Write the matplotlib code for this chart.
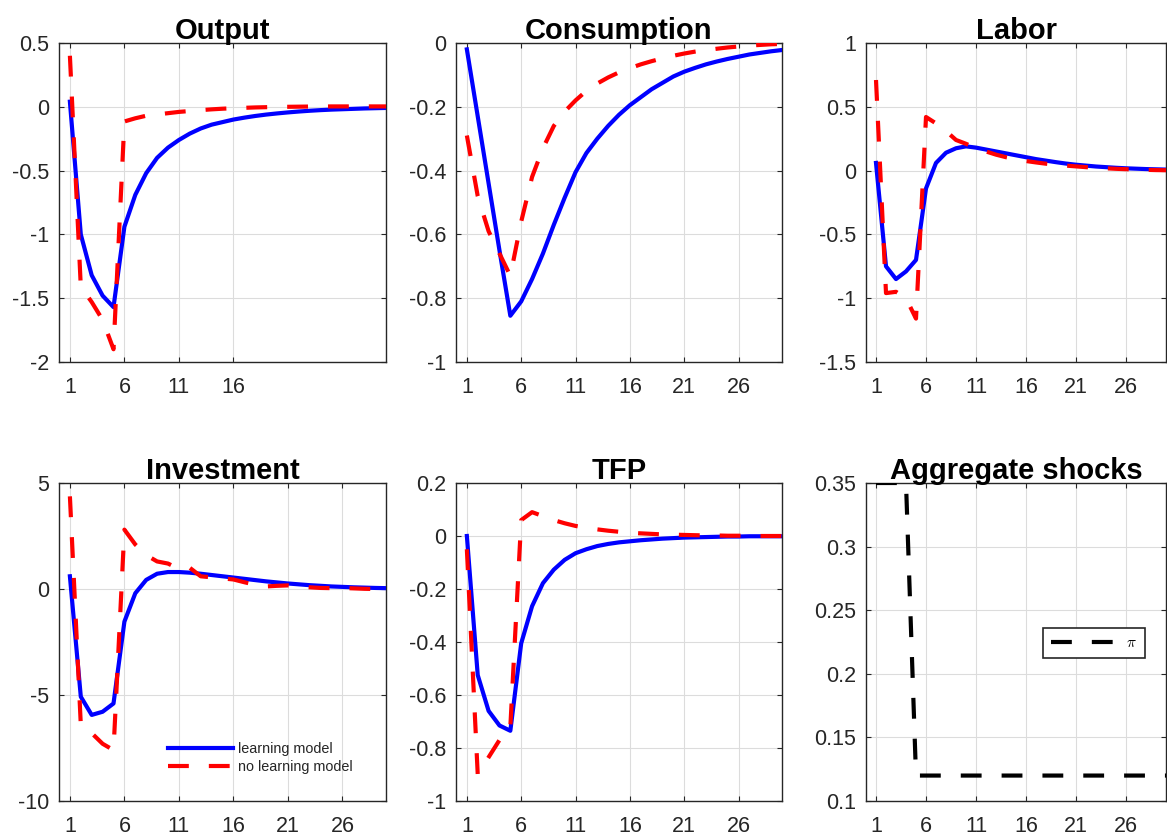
import matplotlib
matplotlib.use("Agg")
import matplotlib.pyplot as plt
import numpy as np

plt.rcParams['font.family'] = ['Liberation Sans', 'DejaVu Sans']
plt.rcParams['axes.unicode_minus'] = False
plt.rcParams['mathtext.fontset'] = 'cm'

# periodos
t = np.arange(1, 31)

# respuestas: modelo con aprendizaje (azul) y sin aprendizaje (rojo)
output_learn = [0.04, -1.0, -1.32, -1.48, -1.57, -0.94, -0.69, -0.52, -0.40, -0.32,
                -0.26, -0.21, -0.17, -0.14, -0.12, -0.10, -0.085, -0.072, -0.061, -0.052,
                -0.044, -0.037, -0.031, -0.026, -0.022, -0.019, -0.016, -0.013, -0.011, -0.009]
output_nolearn = [0.40, -1.41, -1.53, -1.67, -1.90, -0.115, -0.09, -0.07, -0.06, -0.05,
                  -0.04, -0.033, -0.026, -0.02, -0.015, -0.011, -0.008, -0.005, -0.003, -0.001,
                  0.0, 0.001, 0.002, 0.002, 0.003, 0.003, 0.003, 0.003, 0.003, 0.003]

cons_learn = [-0.02, -0.23, -0.44, -0.65, -0.855, -0.81, -0.74, -0.66, -0.57, -0.485,
              -0.405, -0.345, -0.30, -0.26, -0.225, -0.195, -0.17, -0.145, -0.125, -0.105,
              -0.09, -0.078, -0.067, -0.058, -0.05, -0.043, -0.036, -0.031, -0.026, -0.022]
cons_nolearn = [-0.29, -0.48, -0.59, -0.66, -0.73, -0.56, -0.42, -0.33, -0.26, -0.215,
                -0.18, -0.15, -0.127, -0.108, -0.092, -0.079, -0.067, -0.057, -0.048, -0.040,
                -0.033, -0.027, -0.022, -0.018, -0.014, -0.011, -0.008, -0.006, -0.004, -0.003]

labor_learn = [0.06, -0.75, -0.85, -0.79, -0.70, -0.14, 0.06, 0.14, 0.175, 0.19,
               0.18, 0.165, 0.15, 0.135, 0.12, 0.105, 0.09, 0.078, 0.066, 0.055,
               0.046, 0.039, 0.032, 0.027, 0.022, 0.018, 0.015, 0.012, 0.01, 0.008]
labor_nolearn = [0.71, -0.96, -0.95, -1.0, -1.16, 0.42, 0.37, 0.31, 0.24, 0.21,
                 0.175, 0.15, 0.125, 0.105, 0.09, 0.075, 0.064, 0.054, 0.046, 0.039,
                 0.033, 0.027, 0.022, 0.018, 0.014, 0.011, 0.008, 0.006, 0.004, 0.003]

inv_learn = [0.6, -5.08, -5.94, -5.79, -5.4, -1.54, -0.2, 0.43, 0.72, 0.8,
             0.8, 0.77, 0.72, 0.66, 0.6, 0.54, 0.48, 0.42, 0.36, 0.31,
             0.26, 0.22, 0.18, 0.15, 0.12, 0.1, 0.08, 0.065, 0.05, 0.04]
inv_nolearn = [4.37, -6.4, -6.8, -7.3, -7.6, 2.8, 2.1, 1.6, 1.3, 1.2,
               0.95, 1.0, 0.6, 0.55, 0.5, 0.45, 0.32, 0.2, 0.12, 0.15,
               0.17, 0.12, 0.08, 0.05, 0.04, 0.05, 0.03, 0.01, 0.0, 0.02]

tfp_learn = [0.0, -0.525, -0.66, -0.715, -0.735, -0.405, -0.265, -0.178, -0.127, -0.09,
             -0.065, -0.05, -0.038, -0.03, -0.024, -0.02, -0.016, -0.013, -0.01, -0.008,
             -0.006, -0.005, -0.004, -0.003, -0.002, -0.002, -0.001, -0.001, -0.001, -0.001]
tfp_nolearn = [-0.05, -0.9, -0.835, -0.77, -0.72, 0.06, 0.09, 0.075, 0.06, 0.048,
               0.038, 0.031, 0.025, 0.02, 0.016, 0.012, 0.01, 0.008, 0.006, 0.005,
               0.004, 0.003, 0.002, 0.002, 0.001, 0.001, 0.001, 0.0, 0.0, 0.0]

pi_shock = [0.35, 0.35, 0.35, 0.35] + [0.12] * 26

titulos = ["Output", "Consumption", "Labor", "Investment", "TFP", "Aggregate shocks"]
yticks = [[0.5, 0, -0.5, -1, -1.5, -2],
          [0, -0.2, -0.4, -0.6, -0.8, -1],
          [1, 0.5, 0, -0.5, -1, -1.5],
          [5, 0, -5, -10],
          [0.2, 0, -0.2, -0.4, -0.6, -0.8, -1],
          [0.35, 0.3, 0.25, 0.2, 0.15, 0.1]]
xticks = [1, 6, 11, 16, 21, 26]
xticks_output = [1, 6, 11, 16]

W, H = 1167, 840
fig = plt.figure(figsize=(W / 100, H / 100), dpi=100)

# posiciones en pixeles (izq, arriba, der, abajo)
cajas = [(59, 43, 386, 362), (456, 43, 782, 362), (866, 43, 1166, 362),
         (59, 483, 386, 801), (456, 483, 782, 801), (866, 483, 1166, 801)]

dash = (0, (5.0, 4.8))
ejes = []
for k, (l, tp, r, b) in enumerate(cajas):
    ax = fig.add_axes([l / W, 1 - b / H, (r - l) / W, (b - tp) / H])
    ejes.append(ax)

series = [(output_learn, output_nolearn), (cons_learn, cons_nolearn),
          (labor_learn, labor_nolearn), (inv_learn, inv_nolearn),
          (tfp_learn, tfp_nolearn)]

for k, ax in enumerate(ejes):
    if k < 5:
        a, b = series[k]
        ax.plot(t, a, color='#0000ff', lw=3, label='learning model', zorder=3)
        ax.plot(t, b, color='#ff0000', lw=3, linestyle=dash, label='no learning model', zorder=4)
    else:
        ax.plot(t, pi_shock, color='black', lw=3, linestyle=dash, label=r'$\pi$', zorder=3)
    yt = yticks[k]
    ax.set_ylim(min(yt), max(yt))
    ax.set_xlim(0, 30)
    ax.set_yticks(yt)
    ax.set_yticklabels(['%g' % v for v in yt])
    xt = xticks_output if k == 0 else xticks
    ax.set_xticks(xt)
    ax.set_xticklabels([str(v) for v in xt])
    ax.grid(True, color='#dcdcdc', lw=0.8)
    ax.set_axisbelow(True)
    ax.tick_params(direction='in', top=True, right=True, length=3.5, width=0.8,
                   colors='#262626', labelsize=15.5)
    ax.tick_params(axis='x', pad=11)
    ax.tick_params(axis='y', pad=7)
    for s in ax.spines.values():
        s.set_color('#262626')
        s.set_linewidth(1.0)
    ax.set_title(titulos[k], fontsize=21, fontweight='bold', pad=3)

leg = ejes[3].legend(loc='center left', bbox_to_anchor=(0.333, 0.136), frameon=False,
                     fontsize=10.4, handlelength=4.5, handletextpad=0.35,
                     labelspacing=0.3, borderpad=0, borderaxespad=0)
for txt in leg.get_texts():
    txt.set_color('#262626')

leg2 = ejes[5].legend(loc='center', bbox_to_anchor=(0.76, 0.497), fontsize=11,
                      handlelength=4.4, handletextpad=0.5, fancybox=False,
                      framealpha=1, edgecolor='#262626', borderpad=0.55)
leg2.get_frame().set_linewidth(1.2)

fig.savefig("out.png", dpi=100)
